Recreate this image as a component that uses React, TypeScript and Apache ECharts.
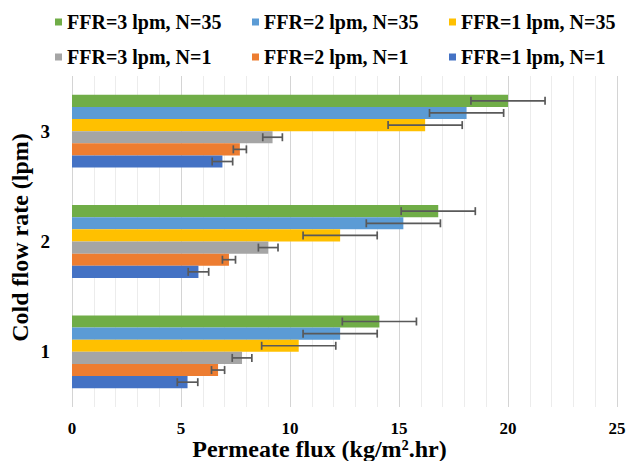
import React, { useEffect, useRef } from "react";
import * as echarts from "echarts";

const categories = ["1", "2", "3"];
const xTicks = [0, 5, 10, 15, 20, 25];

const seriesNames = [
  "FFR=3 lpm, N=35",
  "FFR=2 lpm, N=35",
  "FFR=1 lpm, N=35",
  "FFR=3 lpm, N=1",
  "FFR=2 lpm, N=1",
  "FFR=1 lpm, N=1",
];
const seriesColors = ["#70ad47", "#5b9bd5", "#ffc000", "#a5a5a5", "#ed7d31", "#4472c4"];

const ffr3N35 = [14.1, 16.8, 20.0];
const ffr2N35 = [12.3, 15.2, 18.1];
const ffr1N35 = [10.4, 12.3, 16.2];
const ffr3N1 = [7.8, 9.0, 9.2];
const ffr2N1 = [6.7, 7.2, 7.7];
const ffr1N1 = [5.3, 5.8, 6.9];

const ffr3N35Err = [1.7, 1.7, 1.7];
const ffr2N35Err = [1.7, 1.7, 1.7];
const ffr1N35Err = [1.7, 1.7, 1.7];
const ffr3N1Err = [0.45, 0.45, 0.45];
const ffr2N1Err = [0.3, 0.3, 0.3];
const ffr1N1Err = [0.47, 0.47, 0.47];

const allValues = [ffr3N35, ffr2N35, ffr1N35, ffr3N1, ffr2N1, ffr1N1];
const allErrors = [ffr3N35Err, ffr2N35Err, ffr1N35Err, ffr3N1Err, ffr2N1Err, ffr1N1Err];

const FONT = "Liberation Serif, DejaVu Serif, serif";
const CAT_GAP = 0.34;

export default function App() {
  const ref = useRef<HTMLDivElement>(null);

  useEffect(() => {
    if (!ref.current) return;
    const chart = echarts.init(ref.current, null, { renderer: "svg" });
    const n = seriesNames.length;

    const barSeries = seriesNames.map((name, i) => ({
      name,
      type: "bar",
      data: allValues[i],
      itemStyle: { color: seriesColors[i] },
      barGap: "0%",
      barCategoryGap: CAT_GAP * 100 + "%",
      z: 2,
    }));

    const errSeries = seriesNames.map((name, i) => ({
      name: name + " err",
      type: "custom",
      z: 5,
      encode: { x: 0, y: 1 },
      data: allValues[i].map((v, c) => [v, c, allErrors[i][c]]),
      renderItem: (params: any, api: any) => {
        const v = api.value(0);
        const c = api.value(1);
        const e = api.value(2);
        const p0 = api.coord([v - e, c]);
        const p1 = api.coord([v + e, c]);
        const band = api.size([0, 1])[1];
        const groupH = band * (1 - CAT_GAP);
        const barH = groupH / n;
        const y = p0[1] - groupH / 2 + (i + 0.5) * barH;
        const cap = 4;
        const style = { stroke: "#595959", lineWidth: 1.7 };
        return {
          type: "group",
          children: [
            { type: "line", shape: { x1: p0[0], y1: y, x2: p1[0], y2: y }, style },
            { type: "line", shape: { x1: p0[0], y1: y - cap, x2: p0[0], y2: y + cap }, style },
            { type: "line", shape: { x1: p1[0], y1: y - cap, x2: p1[0], y2: y + cap }, style },
          ],
        };
      },
    }));

    const legendBase = {
      orient: "horizontal",
      left: 55,
      width: 620,
      padding: 0,
      icon: "rect",
      itemWidth: 7,
      itemHeight: 7,
      itemGap: 0,
      selectedMode: false,
      textStyle: {
        fontFamily: FONT,
        fontWeight: "bold",
        fontSize: 20,
        color: "#000",
        width: 185,
        lineHeight: 22,
      },
    };

    chart.setOption({
      animation: false,
      textStyle: { fontFamily: FONT },
      legend: [
        { ...legendBase, top: 11, data: seriesNames.slice(0, 3) },
        { ...legendBase, top: 46, data: seriesNames.slice(3, 6) },
      ],
      grid: { left: 72, right: 15, top: 76, bottom: 54, containLabel: false, outerBoundsMode: "none" },
      xAxis: {
        type: "value",
        min: xTicks[0],
        max: xTicks[xTicks.length - 1],
        interval: 5,
        name: "Permeate flux (kg/m\u00b2.hr)",
        nameLocation: "middle",
        nameGap: 32,
        nameMoveOverlap: false,
        nameTextStyle: {
          fontFamily: FONT,
          fontWeight: "bold",
          fontSize: 24,
          lineHeight: 20,
          color: "#000",
          padding: [0, 50, 0, 0],
        },
        axisLine: { show: false },
        axisTick: { show: false },
        minorTick: { show: false, splitNumber: 5 },
        axisLabel: {
          fontFamily: FONT,
          fontWeight: "bold",
          fontSize: 17,
          lineHeight: 14,
          color: "#000",
          margin: 14,
        },
        splitLine: { show: true, lineStyle: { color: "#d4d4d4", width: 1 } },
        minorSplitLine: { show: true, lineStyle: { color: "#ececec", width: 1 } },
      },
      yAxis: {
        type: "category",
        data: categories,
        name: "Cold flow rate (lpm)",
        nameLocation: "middle",
        nameGap: 40,
        nameMoveOverlap: false,
        nameTextStyle: { fontFamily: FONT, fontWeight: "bold", fontSize: 24, color: "#000", padding: [0, 0, 0, 8] },
        axisLine: { show: false },
        axisTick: { show: false },
        axisLabel: { fontFamily: FONT, fontWeight: "bold", fontSize: 19, color: "#000", margin: 22 },
        splitLine: { show: false },
      },
      series: [...barSeries, ...errSeries],
    });

    return () => chart.dispose();
  }, []);

  return <div ref={ref} style={{ width: 632, height: 461, position: "absolute", left: 0, top: 0 }} />;
}
